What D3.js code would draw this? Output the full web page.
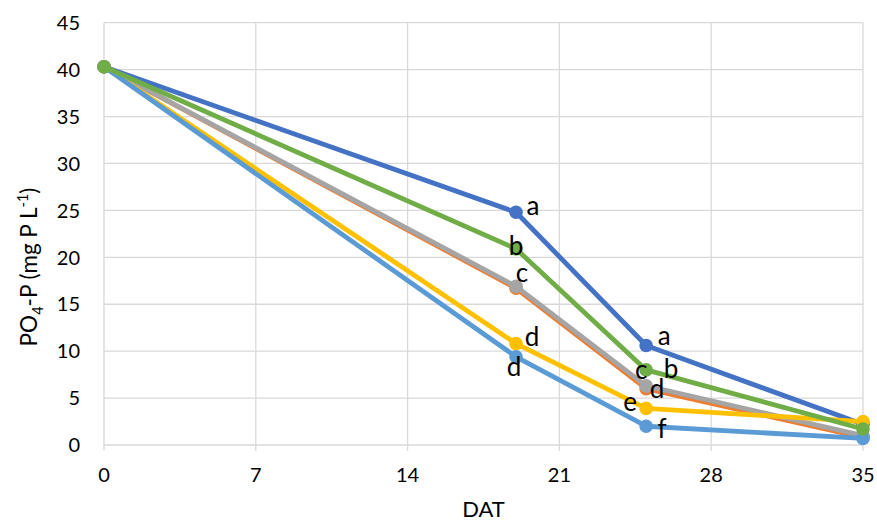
<!DOCTYPE html>
<html>
<head>
<meta charset="utf-8">
<script src="https://cdn.jsdelivr.net/npm/d3@7"></script>
<style>
  body { margin: 0; background: #fff; }
  svg text { font-family: Lato, "Liberation Sans", sans-serif; fill: #000; }
</style>
</head>
<body>
<svg id="chart" width="877" height="522"></svg>
<script>
// --- DATA ---
const days = [0, 19, 25, 35];
const seriesNames = ["T1", "T2", "T3", "T4", "T5", "T6"];
const seriesColors = ["#4472C4", "#ED7D31", "#A5A5A5", "#FFC000", "#5B9BD5", "#70AD47"];
const seriesValues = [
  [40.3, 24.8, 10.6, 2.2],
  [40.3, 16.7, 6.0, 0.8],
  [40.3, 16.9, 6.3, 1.0],
  [40.3, 10.8, 3.9, 2.5],
  [40.3, 9.4, 2.0, 0.7],
  [40.3, 20.9, 8.0, 1.7]
];
// significance letters (null = none)
const seriesLetters = [
  [null, "a", "a", null],
  [null, null, "d", null],
  [null, "c", "c", null],
  [null, "d", "e", null],
  [null, "d", "f", null],
  [null, "b", "b", null]
];
const xTicks = [0, 7, 14, 21, 28, 35];
const yTicks = [0, 5, 10, 15, 20, 25, 30, 35, 40, 45];

// label offsets from the marker (dx, dy to baseline)
const letterOffsets = [
  [null, [17, 3], [18, -1], null],
  [null, null, [11, 9], null],
  [null, [6, -4], [-5, -7], null],
  [null, [16, 2], [-16, 3], null],
  [null, [-2, 19], [16, 12], null],
  [null, [0, 6], [25, 8], null]
];

// --- LAYOUT ---
const svg = d3.select("#chart");
const plot = { left: 104, right: 863, top: 22.7, bottom: 445 };

const x = d3.scaleLinear().domain([0, 35]).range([plot.left, plot.right]);
const y = d3.scaleLinear().domain([0, 45]).range([plot.bottom, plot.top]);

// gridlines
svg.append("g").selectAll("line.h")
  .data(yTicks.filter(t => t > 0))
  .join("line")
  .attr("x1", plot.left).attr("x2", plot.right)
  .attr("y1", d => y(d)).attr("y2", d => y(d))
  .attr("stroke", "#d9d9d9").attr("stroke-width", 1.3);

svg.append("g").selectAll("line.v")
  .data(xTicks)
  .join("line")
  .attr("x1", d => x(d)).attr("x2", d => x(d))
  .attr("y1", plot.top).attr("y2", plot.bottom + 6)
  .attr("stroke", "#d9d9d9").attr("stroke-width", 1.3);

// bottom axis line
svg.append("line")
  .attr("x1", plot.left).attr("x2", plot.right)
  .attr("y1", plot.bottom).attr("y2", plot.bottom)
  .attr("stroke", "#d9d9d9").attr("stroke-width", 1.5);

// tick labels
svg.append("g").selectAll("text")
  .data(yTicks)
  .join("text")
  .attr("x", 80).attr("y", d => y(d))
  .attr("dy", "0.36em")
  .attr("text-anchor", "end")
  .attr("font-size", 20)
  .text(d => d);

svg.append("g").selectAll("text")
  .data(xTicks)
  .join("text")
  .attr("x", d => x(d)).attr("y", 475)
  .attr("dy", "0.36em")
  .attr("text-anchor", "middle")
  .attr("font-size", 20)
  .text(d => d);

// axis titles
svg.append("text")
  .attr("x", (plot.left + plot.right) / 2).attr("y", 517)
  .attr("text-anchor", "middle")
  .attr("font-size", 22)
  .text("DAT");

const yTitle = svg.append("text")
  .attr("transform", "translate(37,267) rotate(-90)")
  .attr("text-anchor", "middle")
  .attr("font-size", 22.5);
yTitle.append("tspan").text("PO");
yTitle.append("tspan").attr("font-size", 14.5).attr("dy", 6).text("4");
yTitle.append("tspan").attr("dy", -6).text("-P (mg P L");
yTitle.append("tspan").attr("font-size", 14.5).attr("dy", -9).text("-1");
yTitle.append("tspan").attr("dy", 9).text(")");

// --- SERIES ---
const line = d3.line().x((d, i) => x(days[i])).y(d => y(d));

seriesValues.forEach((vals, s) => {
  const g = svg.append("g").attr("class", "series " + seriesNames[s]);
  g.append("path")
    .attr("d", line(vals))
    .attr("fill", "none")
    .attr("stroke", seriesColors[s])
    .attr("stroke-width", 4.8)
    .attr("stroke-linejoin", "round");
  g.selectAll("circle")
    .data(vals)
    .join("circle")
    .attr("cx", (d, i) => x(days[i]))
    .attr("cy", d => y(d))
    .attr("r", 6.8)
    .attr("fill", seriesColors[s]);
});

// letters on top
const labelG = svg.append("g");
seriesLetters.forEach((letters, s) => {
  letters.forEach((t, i) => {
    if (!t) return;
    const off = letterOffsets[s][i];
    labelG.append("text")
      .attr("x", x(days[i]) + off[0])
      .attr("y", y(seriesValues[s][i]) + off[1])
      .attr("text-anchor", "middle")
      .attr("font-size", 26)
      .text(t);
  });
});
</script>
</body>
</html>
